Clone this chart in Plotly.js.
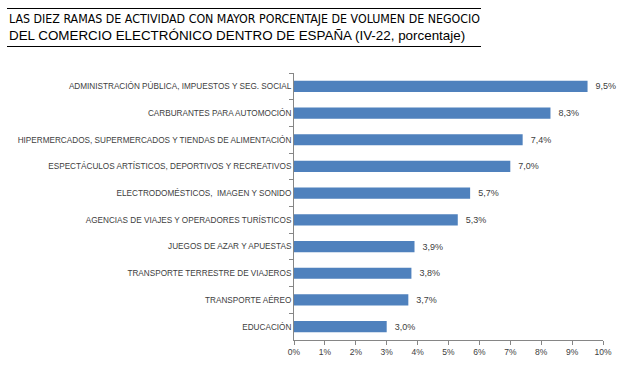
<!DOCTYPE html>
<html><head><meta charset="utf-8">
<script src="https://cdn.plot.ly/plotly-3.0.1.min.js"></script>
<style>body{margin:0;background:#fff}#c{width:627px;height:373px}</style>
</head><body><div id="c"></div>
<script>
var categories = [
  "ADMINISTRACIÓN PÚBLICA, IMPUESTOS Y SEG. SOCIAL",
  "CARBURANTES PARA AUTOMOCIÓN",
  "HIPERMERCADOS, SUPERMERCADOS Y TIENDAS DE ALIMENTACIÓN",
  "ESPECTÁCULOS ARTÍSTICOS, DEPORTIVOS Y RECREATIVOS",
  "ELECTRODOMÉSTICOS,  IMAGEN Y SONIDO",
  "AGENCIAS DE VIAJES Y OPERADORES TURÍSTICOS",
  "JUEGOS DE AZAR Y APUESTAS",
  "TRANSPORTE TERRESTRE DE VIAJEROS",
  "TRANSPORTE AÉREO",
  "EDUCACIÓN"
];
var values = [9.5, 8.3, 7.4, 7.0, 5.7, 5.3, 3.9, 3.8, 3.7, 3.0];
var xTicks = [0,1,2,3,4,5,6,7,8,9,10];
var titleLines = [
  "LAS DIEZ RAMAS DE ACTIVIDAD CON MAYOR PORCENTAJE DE VOLUMEN DE NEGOCIO",
  "DEL COMERCIO ELECTRÓNICO DENTRO DE ESPAÑA (IV-22, porcentaje)"
];

var W = 627, H = 373;
var m = {l: 294, r: 24, t: 73, b: 33};
var pw = W - m.l - m.r, ph = H - m.t - m.b;
function px(x){ return (x - m.l) / pw; }
function py(y){ return 1 - (y - m.t) / ph; }

var font = "Liberation Sans, Arial, sans-serif";
var titleFont1 = "DejaVu Sans Condensed, sans-serif";
var data = [{
  type: 'bar', orientation: 'h',
  x: values, y: categories,
  marker: {color: '#4F81BD', line: {width: 0}},
  texttemplate: '\u00a0\u00a0%{x:.1f}%', textposition: 'outside', cliponaxis: false,
  textfont: {size: 9, color: '#404040', family: font},
  hoverinfo: 'none'
}];
var layout = {
  width: W, height: H, margin: m,
  paper_bgcolor: '#fff', plot_bgcolor: '#fff',
  separators: ',.',
  font: {family: font, size: 8, color: '#404040'},
  showlegend: false,
  bargap: 0.58,
  xaxis: {
    range: [0, 10], tickvals: xTicks, ticktext: xTicks.map(function(v){return v+'%';}),
    showgrid: false, zeroline: false, showline: true, linecolor: '#868686', linewidth: 1,
    ticks: 'outside', ticklen: 4, tickcolor: '#868686',
    tickfont: {size: 8.5, color: '#404040'}, fixedrange: true
  },
  yaxis: {
    type: 'category', autorange: 'reversed',
    showgrid: false, zeroline: false, showline: true, linecolor: '#868686', linewidth: 1,
    ticks: 'outside', ticklen: 4, tickcolor: '#868686', tickson: 'boundaries',
    tickfont: {size: 8.2, color: '#404040'}, fixedrange: true
  },
  annotations: [
    {text: titleLines[0], xref: 'paper', yref: 'paper', x: px(7), y: py(19), xanchor: 'left', yanchor: 'middle', showarrow: false, font: {size: 12.3, color: '#000', family: titleFont1}},
    {text: titleLines[1], xref: 'paper', yref: 'paper', x: px(7), y: py(36), xanchor: 'left', yanchor: 'middle', showarrow: false, font: {size: 13.4, color: '#000', family: font}}
  ],
  shapes: [
    {type: 'line', xref: 'paper', yref: 'paper', x0: px(7), x1: px(481), y0: py(8.5), y1: py(8.5), line: {color: '#000', width: 1}},
    {type: 'line', xref: 'paper', yref: 'paper', x0: px(7), x1: px(481), y0: py(46.5), y1: py(46.5), line: {color: '#000', width: 1}}
  ]
};
Plotly.newPlot('c', data, layout, {displayModeBar: false, staticPlot: true});
</script></body></html>
